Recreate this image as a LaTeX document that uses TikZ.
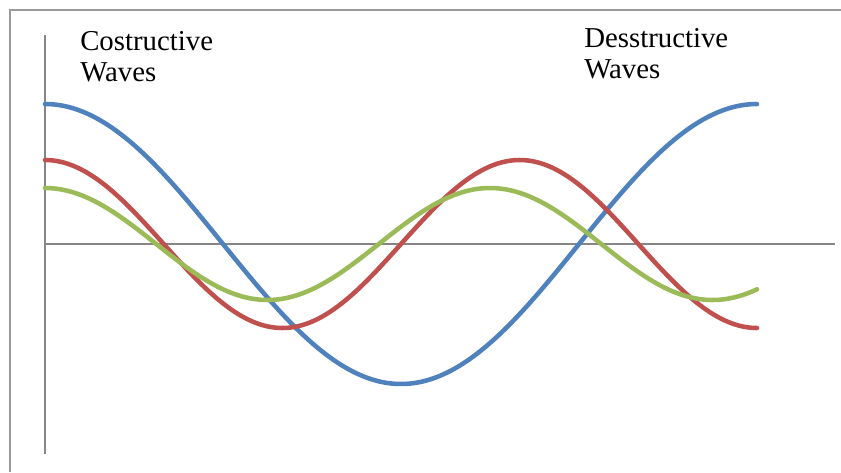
\documentclass[tikz,border=0pt]{standalone}
\usepackage{fontspec}
\setmainfont{Liberation Serif}
\usetikzlibrary{positioning}
\definecolor{waveblue}{HTML}{4F81BD}
\definecolor{wavered}{HTML}{C0504D}
\definecolor{wavegreen}{HTML}{9BBB59}
\definecolor{axisgray}{HTML}{868686}
\definecolor{framegray}{HTML}{9A9A9A}

\begin{document}
\begin{tikzpicture}[
    x=0.75pt, y=-0.75pt,
    waveLine/.style={line width=3.4pt, line cap=round, samples=160, smooth},
    axisLine/.style={draw=axisgray, line width=1.1pt},
    waveLabel/.style={anchor=north west, inner sep=0pt, align=left, font=\fontsize{21.6}{23.3}\selectfont}
]
    \useasboundingbox (0,0) rectangle (841,472);
    \draw[draw=framegray, line width=1.5pt] (9.5,472) -- (9.5,9.5) -- (841,9.5);

    % axes
    \draw[axisLine] (45,35) -- (45,454);
    \draw[axisLine] (45,244) -- (835,244);

    % waves
    \draw[waveLine, waveblue]  plot[domain=0:712] ({\x+45}, {244-140*cos(\x/712*360)});
    \draw[waveLine, wavered]   plot[domain=0:712] ({\x+45}, {244-84*cos(\x/712*540)});
    \draw[waveLine, wavegreen] plot[domain=0:712] ({\x+45}, {244-56*cos(\x/712*576)});

    \node[waveLabel] (costr) at (80,31) {Costructive\\Waves};
    \node[waveLabel] (destr) at (584,28) {Desstructive\\Waves};
\end{tikzpicture}
\end{document}
